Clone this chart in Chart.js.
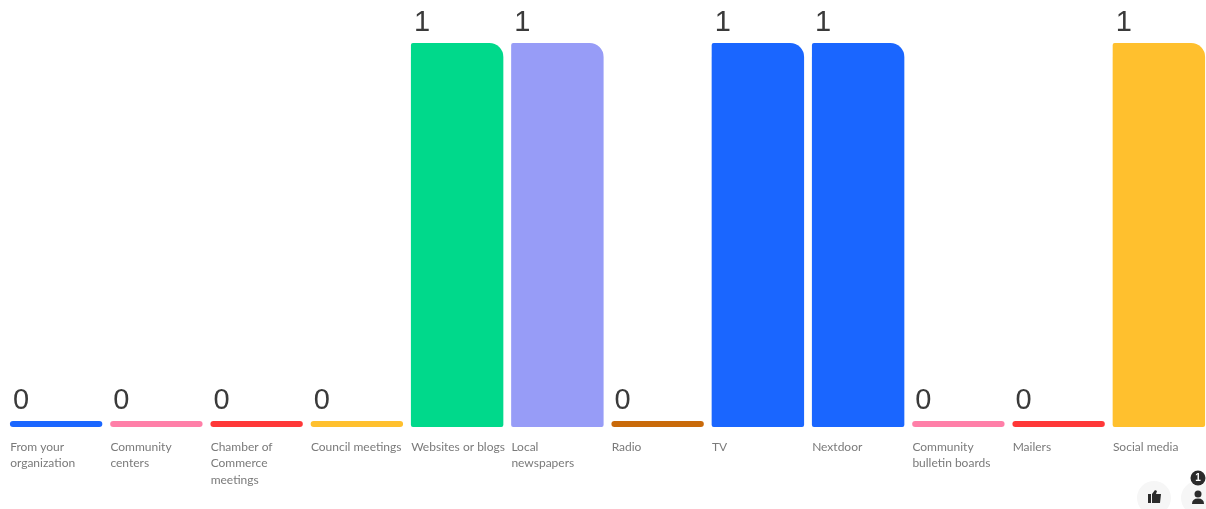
<!DOCTYPE html>
<html>
<head>
<meta charset="utf-8">
<style>
  html, body { margin: 0; padding: 0; background: #fff; overflow: hidden; }
  canvas { display: block; }
</style>
<script src="https://cdn.jsdelivr.net/npm/chart.js@4"></script>
</head>
<body>
<canvas id="chart" width="1210" height="509"></canvas>
<script>
const categories = [
  ['From your', 'organization'],
  ['Community', 'centers'],
  ['Chamber of', 'Commerce', 'meetings'],
  'Council meetings',
  'Websites or blogs',
  ['Local', 'newspapers'],
  'Radio',
  'TV',
  'Nextdoor',
  ['Community', 'bulletin boards'],
  'Mailers',
  'Social media'
];
const votes = [0, 0, 0, 0, 1, 1, 0, 1, 1, 0, 0, 1];
const barColours = ['#1a66ff', '#ff7fa8', '#ff3838', '#ffc02e', '#00d98b', '#979cf7',
  '#c96a0a', '#1a66ff', '#1a66ff', '#ff7fa8', '#ff3838', '#ffc02e'];
const likeCount = '1';

// vote count above each bar, left aligned with it
const valueLabels = {
  id: 'valueLabels',
  afterDatasetsDraw(chart) {
    const ctx = chart.ctx;
    ctx.save();
    ctx.font = '29px "Liberation Sans"';
    ctx.fillStyle = '#3a3a3a';
    ctx.textAlign = 'left';
    ctx.textBaseline = 'alphabetic';
    chart.getDatasetMeta(0).data.forEach((bar, i) => {
      const left = bar.x - bar.width / 2;
      ctx.fillText(String(votes[i]), left + 3, bar.y - 12);
    });
    ctx.restore();
  }
};

// the little reaction buttons in the bottom right corner
const cornerIcons = {
  id: 'cornerIcons',
  afterDraw(chart) {
    const ctx = chart.ctx;
    ctx.save();
    ctx.fillStyle = '#f6f6f6';
    ctx.beginPath(); ctx.arc(1154, 498, 17, 0, Math.PI * 2); ctx.fill();
    ctx.beginPath(); ctx.arc(1198, 498, 17, 0, Math.PI * 2); ctx.fill();

    ctx.fillStyle = '#2b2b2b';
    // thumb
    ctx.fillRect(1148, 494, 3, 9);
    ctx.beginPath();
    ctx.moveTo(1152, 494);
    ctx.lineTo(1155, 490);
    ctx.lineTo(1157, 491);
    ctx.lineTo(1156, 494);
    ctx.lineTo(1161, 494);
    ctx.lineTo(1160, 503);
    ctx.lineTo(1152, 503);
    ctx.closePath();
    ctx.fill();
    // person
    ctx.beginPath(); ctx.arc(1198, 494, 3.5, 0, Math.PI * 2); ctx.fill();
    ctx.beginPath();
    ctx.moveTo(1192, 504);
    ctx.quadraticCurveTo(1192, 498.5, 1198, 498.5);
    ctx.quadraticCurveTo(1204, 498.5, 1204, 504);
    ctx.closePath();
    ctx.fill();
    // badge
    ctx.beginPath(); ctx.arc(1198, 478, 7.5, 0, Math.PI * 2); ctx.fill();
    ctx.fillStyle = '#ffffff';
    ctx.font = 'bold 10px "Liberation Sans"';
    ctx.textAlign = 'center';
    ctx.textBaseline = 'middle';
    ctx.fillText(likeCount, 1198, 478.5);
    ctx.restore();
  }
};

new Chart(document.getElementById('chart').getContext('2d'), {
  type: 'bar',
  data: {
    labels: categories,
    datasets: [{
      data: votes,
      backgroundColor: barColours,
      barPercentage: 0.922,
      categoryPercentage: 1,
      minBarLength: 6,
      borderSkipped: false,
      borderRadius: (c) => votes[c.dataIndex] === 0
        ? 3
        : { topLeft: 2, topRight: 14, bottomLeft: 2, bottomRight: 2 }
    }]
  },
  plugins: [valueLabels, cornerIcons],
  options: {
    responsive: false,
    animation: false,
    layout: { padding: { left: 6, right: 1, top: 43, bottom: 0 } },
    plugins: { legend: { display: false }, tooltip: { enabled: false } },
    scales: {
      x: {
        grid: { display: false },
        border: { display: false },
        // labels are left aligned, so stop the scale reserving room for the last one
        afterFit(axis) {
          axis.height = 82;
          axis.paddingLeft = 0;
          axis.paddingRight = 0;
        },
        ticks: {
          autoSkip: false,
          maxRotation: 0,
          minRotation: 0,
          align: 'start',
          labelOffset: -46,
          padding: 4,
          color: '#7a7a7a',
          font: { family: 'Lato', size: 12, lineHeight: 1.36 }
        }
      },
      y: {
        display: false,
        min: 0,
        max: 1
      }
    }
  }
});
</script>
</body>
</html>
